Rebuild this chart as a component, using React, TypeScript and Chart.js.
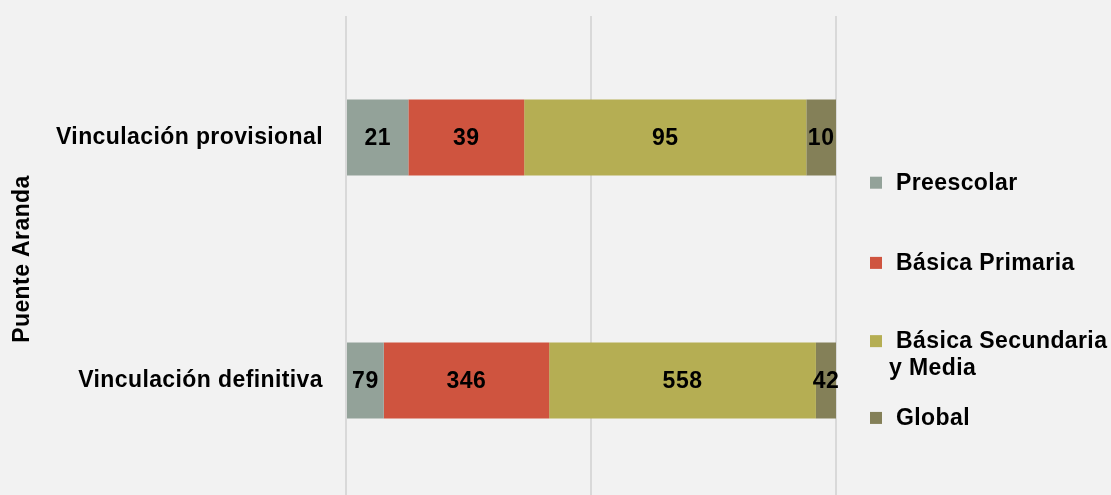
import React, { useEffect, useRef } from "react";
import { Chart, registerables } from "chart.js";

Chart.register(...registerables);

const categories = ["Vinculación provisional", "Vinculación definitiva"];
const seriesNames = ["Preescolar", "Básica Primaria", "Básica Secundaria y Media", "Global"];
const legendLines = [["Preescolar"], ["Básica Primaria"], ["Básica Secundaria", "y Media"], ["Global"]];
const preescolar = [21, 79];
const basicaPrimaria = [39, 346];
const basicaSecundaria = [95, 558];
const globalVals = [10, 42];
const colors = ["#93a299", "#cf543f", "#b5ae53", "#848058"];
const axisTitle = "Puente Aranda";
const xTicks = [0, 50, 100];

const FONT = "'Liberation Sans', Arial, sans-serif";
const SPACING = "0.4px";

export default function App() {
  const ref = useRef<HTMLCanvasElement | null>(null);
  useEffect(() => {
    const canvas = ref.current!;
    const raw = [preescolar, basicaPrimaria, basicaSecundaria, globalVals];
    const totals = categories.map((_, i) => raw.reduce((s, arr) => s + arr[i], 0));
    const datasets = raw.map((arr, k) => ({
      label: seriesNames[k],
      data: arr.map((v, i) => (v / totals[i]) * 100),
      rawValues: arr,
      backgroundColor: colors[k],
      borderWidth: 0,
      barPercentage: 0.313,
      categoryPercentage: 1,
    }));

    const spacing = {
      id: "spacing",
      beforeDraw(chart: any) {
        chart.ctx.letterSpacing = SPACING;
      },
    };

    const labelsPlugin = {
      id: "valueLabels",
      afterDatasetsDraw(chart: any) {
        const ctx = chart.ctx;
        ctx.save();
        ctx.letterSpacing = "0.5px";
        ctx.font = `bold 23px ${FONT}`;
        ctx.fillStyle = "#000";
        ctx.textAlign = "center";
        ctx.textBaseline = "middle";
        chart.data.datasets.forEach((ds: any, di: number) => {
          const meta = chart.getDatasetMeta(di);
          meta.data.forEach((el: any, i: number) => {
            const cx = (el.x + el.base) / 2;
            ctx.fillText(String(ds.rawValues[i]), cx, el.y + 1);
          });
        });
        ctx.restore();
      },
    };

    const legendPlugin = {
      id: "customLegend",
      afterDraw(chart: any) {
        const ctx = chart.ctx;
        const area = chart.chartArea;
        const h = area.bottom - area.top;
        const ys = [0.343, 0.508, 0.669, 0.827].map((f) => area.top + f * h);
        const sqX = area.right + 34;
        ctx.save();
        ctx.letterSpacing = SPACING;
        ctx.font = `bold 23px ${FONT}`;
        ctx.textAlign = "left";
        ctx.textBaseline = "middle";
        legendLines.forEach((lines, k) => {
          const y = ys[k];
          ctx.fillStyle = colors[k];
          ctx.fillRect(sqX, y - 6, 12, 12);
          ctx.fillStyle = "#000";
          lines.forEach((ln, j) => {
            const x = j === 0 ? sqX + 26 : sqX + 19;
            ctx.fillText(ln, x, y + 1 + j * 27);
          });
        });
        ctx.restore();
      },
    };

    const chart = new Chart(canvas, {
      type: "bar",
      data: { labels: categories, datasets: datasets as any },
      options: {
        indexAxis: "y",
        animation: false,
        responsive: false,
        maintainAspectRatio: false,
        layout: { padding: { left: 0, right: 275, top: 16, bottom: 8 } },
        plugins: { legend: { display: false }, tooltip: { enabled: false } },
        scales: {
          x: {
            stacked: true,
            min: xTicks[0],
            max: xTicks[xTicks.length - 1],
            afterBuildTicks: (scale: any) => {
              scale.ticks = xTicks.map((v) => ({ value: v }));
            },
            afterFit: (scale: any) => {
              scale.height = 0;
              scale.paddingLeft = 0;
              scale.paddingRight = 0;
            },
            ticks: { display: false },
            grid: { color: "#d9d9d9", lineWidth: 2, drawTicks: false },
            border: { display: false },
          },
          y: {
            stacked: true,
            afterFit: (scale: any) => {
              scale.width = 346;
              scale.paddingTop = 0;
              scale.paddingBottom = 0;
            },
            ticks: {
              color: "#000",
              padding: 23,
              font: { family: FONT, size: 23, weight: "bold" },
            },
            grid: { display: false, drawTicks: false },
            border: { display: false },
            title: {
              display: true,
              text: axisTitle,
              color: "#000",
              font: { family: FONT, size: 23, weight: "bold" },
              padding: { top: 9, bottom: 0 },
            },
          },
        },
      },
      plugins: [spacing, labelsPlugin, legendPlugin],
    });
    return () => chart.destroy();
  }, []);

  return (
    <div
      style={{
        position: "fixed",
        left: 0,
        top: 0,
        width: 1111,
        height: 495,
        overflow: "hidden",
        background: "#f2f2f2",
      }}
    >
      <canvas ref={ref} width={1111} height={510} style={{ display: "block" }} />
    </div>
  );
}
